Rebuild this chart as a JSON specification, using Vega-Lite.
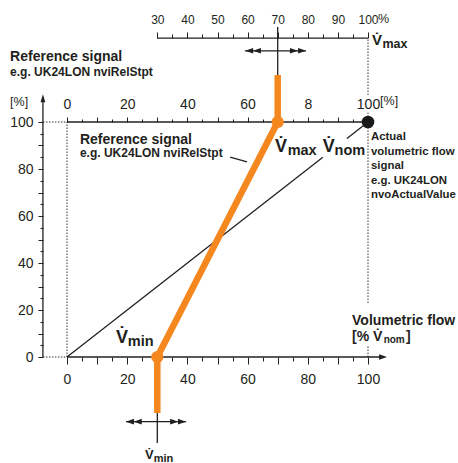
{
  "$schema": "https://vega.github.io/schema/vega-lite/v6.json",
  "width": 301,
  "height": 235,
  "autosize": {"type": "none"},
  "padding": {"left": 67, "top": 122, "right": 90, "bottom": 106},
  "background": "white",
  "config": {
    "view": {"stroke": null},
    "axis": {
      "labelFont": "Liberation Sans",
      "labelColor": "#231f20",
      "tickColor": "#231f20",
      "tickWidth": 1,
      "labelFontSize": 14,
      "grid": false,
      "title": null,
      "labelFlush": false,
      "labelOverlap": false,
      "domain": false
    },
    "text": {"font": "Liberation Sans", "color": "#231f20", "align": "left", "baseline": "alphabetic"}
  },
  "resolve": {"axis": {"x": "independent", "y": "independent"}},
  "layer": [
    {
      "data": {"values": [
        {"x": -8, "x2": 0, "y": 0, "y2": 0},
        {"x": -8, "x2": 0, "y": 100, "y2": 100},
        {"x": 0, "x2": 0, "y": 0, "y2": 100},
        {"x": 100, "x2": 100, "y": 0, "y2": 5},
        {"x": 100, "x2": 100, "y": 23, "y2": 104},
        {"x": 100, "x2": 100, "y": 111.5, "y2": 135.7}
      ]},
      "mark": {"type": "rule", "strokeDash": [1.5, 1.5], "strokeWidth": 1, "color": "#333333"},
      "encoding": {
        "x": {"field": "x", "type": "quantitative", "scale": {"domain": [0, 100], "nice": false, "zero": false},
          "axis": {"orient": "bottom", "values": [0, 10, 20, 30, 40, 50, 60, 70, 80, 90, 100], "tickSize": 7, "labelPadding": 8,
            "labelExpr": "datum.value % 20 == 0 ? datum.label : ''"}},
        "x2": {"field": "x2"},
        "y": {"field": "y", "type": "quantitative", "scale": {"domain": [0, 100], "nice": false, "zero": false},
          "axis": {"orient": "left", "offset": 24, "values": [0, 10, 20, 30, 40, 50, 60, 70, 80, 90, 100], "tickSize": 5, "labelPadding": 5,
            "labelExpr": "datum.value % 20 == 0 ? datum.label : ''"}},
        "y2": {"field": "y2"}
      }
    },
    {
      "data": {"values": [
        {"x": 30, "x2": 100, "y": 135.7, "y2": 135.7},
        {"x": -8, "x2": -8, "y": 0, "y2": 110},
        {"x": 0, "x2": 105, "y": 0, "y2": 0},
        {"x": 0, "x2": 100, "y": 100, "y2": 100},
        {"x": 70, "x2": 70, "y": 100, "y2": 140.4},
        {"x": 30, "x2": 30, "y": -23.8, "y2": -36.6},
        {"x": 59.1, "x2": 79.4, "y": 130.3, "y2": 130.3},
        {"x": 19.6, "x2": 39.6, "y": -27.5, "y2": -27.5},
        {"x": 54.2, "x2": 59.8, "y": 85.1, "y2": 83.0}
      ]},
      "mark": {"type": "rule", "strokeWidth": 1.3, "color": "#231f20"},
      "encoding": {
        "x": {"field": "x", "type": "quantitative", "scale": {"domain": [0, 100], "nice": false, "zero": false},
          "axis": {"orient": "bottom", "values": [5, 15, 25, 35, 45, 55, 65, 75, 85, 95], "tickSize": 4, "labels": false}},
        "x2": {"field": "x2"},
        "y": {"field": "y", "type": "quantitative", "scale": {"domain": [0, 100], "nice": false, "zero": false},
          "axis": {"orient": "left", "offset": 24, "values": [5, 15, 25, 35, 45, 55, 65, 75, 85, 95], "tickSize": 3, "labels": false}},
        "y2": {"field": "y2"}
      }
    },
    {
      "data": {"values": [
        {"seg": "a", "x": 0, "y": 0},
        {"seg": "a", "x": 85, "y": 85},
        {"seg": "b", "x": 93, "y": 93},
        {"seg": "b", "x": 100, "y": 100}
      ]},
      "mark": {"type": "line", "strokeWidth": 1.3, "color": "#231f20"},
      "encoding": {
        "x": {"field": "x", "type": "quantitative", "scale": {"domain": [0, 100], "nice": false, "zero": false},
          "axis": {"orient": "top", "values": [0, 10, 20, 30, 40, 50, 60, 70, 80, 90, 100], "tickSize": 5, "labelPadding": 6,
            "labelExpr": "datum.value == 80 ? '8' : (datum.value % 20 == 0 ? datum.label : '')"}},
        "y": {"field": "y", "type": "quantitative", "scale": {"domain": [0, 100], "nice": false, "zero": false}, "axis": null},
        "detail": {"field": "seg"}
      }
    },
    {
      "data": {"values": [
        {"o": 1, "x": 30, "y": -23.8},
        {"o": 2, "x": 30, "y": 0},
        {"o": 3, "x": 70, "y": 100},
        {"o": 4, "x": 70, "y": 120}
      ]},
      "mark": {"type": "line", "strokeWidth": 6.5, "color": "#f5871f", "strokeCap": "butt", "strokeJoin": "round"},
      "encoding": {
        "x": {"field": "x", "type": "quantitative", "scale": {"domain": [0, 100], "nice": false, "zero": false},
          "axis": {"orient": "top", "values": [5, 15, 25, 35, 45, 55, 65, 75, 85, 95], "tickSize": 3, "labels": false}},
        "y": {"field": "y", "type": "quantitative", "scale": {"domain": [0, 100], "nice": false, "zero": false}, "axis": null},
        "order": {"field": "o"}
      }
    },
    {
      "data": {"values": [
        {"x": 30, "y": 0},
        {"x": 70, "y": 100}
      ]},
      "mark": {"type": "point", "shape": "circle", "filled": true, "opacity": 1, "size": 150, "color": "#f5871f"},
      "encoding": {
        "x": {"field": "x", "type": "quantitative", "scale": {"domain": [0, 100], "nice": false, "zero": false},
          "axis": {"orient": "top", "offset": 84, "values": [30, 40, 50, 60, 70, 80, 90, 100], "tickSize": 6, "labelPadding": 6, "labelFontSize": 12}},
        "y": {"field": "y", "type": "quantitative", "scale": {"domain": [0, 100], "nice": false, "zero": false}, "axis": null}
      }
    },
    {
      "data": {"values": [
        {"x": 100, "y": 100}
      ]},
      "mark": {"type": "point", "shape": "circle", "filled": true, "opacity": 1, "size": 160, "color": "#1a1a1a"},
      "encoding": {
        "x": {"field": "x", "type": "quantitative", "scale": {"domain": [0, 100], "nice": false, "zero": false},
          "axis": {"orient": "top", "offset": 84, "values": [35, 45, 55, 65, 75, 85, 95], "tickSize": 4, "labels": false}},
        "y": {"field": "y", "type": "quantitative", "scale": {"domain": [0, 100], "nice": false, "zero": false}, "axis": null}
      }
    },
    {
      "data": {"values": [
        {"x": 105, "y": 0},
        {"x": 75.4, "y": 130.3},
        {"x": 78.1, "y": 130.3},
        {"x": 35.6, "y": -27.5},
        {"x": 38.2, "y": -27.5}
      ]},
      "mark": {"type": "point", "shape": "M1,0L-1,-0.7L-1,0.7Z", "filled": true, "opacity": 1, "size": 64, "color": "#231f20"},
      "encoding": {
        "x": {"field": "x", "type": "quantitative", "scale": {"domain": [0, 100], "nice": false, "zero": false}, "axis": null},
        "y": {"field": "y", "type": "quantitative", "scale": {"domain": [0, 100], "nice": false, "zero": false}, "axis": null}
      }
    },
    {
      "data": {"values": [
        {"x": 60.5, "y": 130.3},
        {"x": 63.1, "y": 130.3},
        {"x": 20.9, "y": -27.5},
        {"x": 23.5, "y": -27.5}
      ]},
      "mark": {"type": "point", "shape": "M-1,0L1,-0.7L1,0.7Z", "filled": true, "opacity": 1, "size": 64, "color": "#231f20"},
      "encoding": {
        "x": {"field": "x", "type": "quantitative", "scale": {"domain": [0, 100], "nice": false, "zero": false}, "axis": null},
        "y": {"field": "y", "type": "quantitative", "scale": {"domain": [0, 100], "nice": false, "zero": false}, "axis": null}
      }
    },
    {
      "data": {"values": [
        {"x": -8, "y": 110.1}
      ]},
      "mark": {"type": "point", "shape": "M0,-1L-0.6,1L0.6,1Z", "filled": true, "opacity": 1, "size": 64, "color": "#231f20"},
      "encoding": {
        "x": {"field": "x", "type": "quantitative", "scale": {"domain": [0, 100], "nice": false, "zero": false}, "axis": null},
        "y": {"field": "y", "type": "quantitative", "scale": {"domain": [0, 100], "nice": false, "zero": false}, "axis": null}
      }
    },
    {
      "data": {"values": [
        {"t": "Reference signal", "x": -18.9, "y": 126.0},
        {"t": "Reference signal", "x": 4.3, "y": 90.6},
        {"t": "Volumetric flow", "x": 94.7, "y": 13.6},
        {"t": "[% V̇", "x": 94.7, "y": 6.8},
        {"t": "]", "x": 112.6, "y": 6.8}
      ]},
      "mark": {"type": "text", "fontSize": 14, "fontWeight": "bold"},
      "encoding": {
        "x": {"field": "x", "type": "quantitative", "scale": {"domain": [0, 100], "nice": false, "zero": false}, "axis": null},
        "y": {"field": "y", "type": "quantitative", "scale": {"domain": [0, 100], "nice": false, "zero": false}, "axis": null},
        "text": {"field": "t"}
      }
    },
    {
      "data": {"values": [
        {"t": "e.g. UK24LON nviRelStpt", "x": -18.9, "y": 119.6},
        {"t": "e.g. UK24LON nviRelStpt", "x": 4.3, "y": 84.9}
      ]},
      "mark": {"type": "text", "fontSize": 12, "fontWeight": "bold"},
      "encoding": {
        "x": {"field": "x", "type": "quantitative", "scale": {"domain": [0, 100], "nice": false, "zero": false}, "axis": null},
        "y": {"field": "y", "type": "quantitative", "scale": {"domain": [0, 100], "nice": false, "zero": false}, "axis": null},
        "text": {"field": "t"}
      }
    },
    {
      "data": {"values": [
        {"t": "Actual", "x": 101.0, "y": 92.3},
        {"t": "volumetric flow", "x": 101.0, "y": 86.0},
        {"t": "signal", "x": 101.0, "y": 79.8},
        {"t": "e.g. UK24LON", "x": 101.0, "y": 73.6},
        {"t": "nvoActualValue", "x": 101.0, "y": 67.7}
      ]},
      "mark": {"type": "text", "fontSize": 11.4, "fontWeight": "bold"},
      "encoding": {
        "x": {"field": "x", "type": "quantitative", "scale": {"domain": [0, 100], "nice": false, "zero": false}, "axis": null},
        "y": {"field": "y", "type": "quantitative", "scale": {"domain": [0, 100], "nice": false, "zero": false}, "axis": null},
        "text": {"field": "t"}
      }
    },
    {
      "data": {"values": [
        {"t": "V̇", "x": 69.1, "y": 87.2},
        {"t": "V̇", "x": 85.0, "y": 87.2},
        {"t": "V̇", "x": 16.3, "y": 6.0}
      ]},
      "mark": {"type": "text", "fontSize": 18, "fontWeight": "bold"},
      "encoding": {
        "x": {"field": "x", "type": "quantitative", "scale": {"domain": [0, 100], "nice": false, "zero": false}, "axis": null},
        "y": {"field": "y", "type": "quantitative", "scale": {"domain": [0, 100], "nice": false, "zero": false}, "axis": null},
        "text": {"field": "t"}
      }
    },
    {
      "data": {"values": [
        {"t": "max", "x": 73.3, "y": 86.0},
        {"t": "nom", "x": 88.9, "y": 86.0},
        {"t": "min", "x": 20.2, "y": 4.5}
      ]},
      "mark": {"type": "text", "fontSize": 14.5, "fontWeight": "bold"},
      "encoding": {
        "x": {"field": "x", "type": "quantitative", "scale": {"domain": [0, 100], "nice": false, "zero": false}, "axis": null},
        "y": {"field": "y", "type": "quantitative", "scale": {"domain": [0, 100], "nice": false, "zero": false}, "axis": null},
        "text": {"field": "t"}
      }
    },
    {
      "data": {"values": [
        {"t": "nom", "x": 105.2, "y": 5.8}
      ]},
      "mark": {"type": "text", "fontSize": 10, "fontWeight": "bold"},
      "encoding": {
        "x": {"field": "x", "type": "quantitative", "scale": {"domain": [0, 100], "nice": false, "zero": false}, "axis": null},
        "y": {"field": "y", "type": "quantitative", "scale": {"domain": [0, 100], "nice": false, "zero": false}, "axis": null},
        "text": {"field": "t"}
      }
    },
    {
      "data": {"values": [
        {"t": "[%]", "x": -18.9, "y": 107.0},
        {"t": "[%]", "x": 104.0, "y": 107.2},
        {"t": "%", "x": 103.3, "y": 142.1}
      ]},
      "mark": {"type": "text", "fontSize": 12.5},
      "encoding": {
        "x": {"field": "x", "type": "quantitative", "scale": {"domain": [0, 100], "nice": false, "zero": false}, "axis": null},
        "y": {"field": "y", "type": "quantitative", "scale": {"domain": [0, 100], "nice": false, "zero": false}, "axis": null},
        "text": {"field": "t"}
      }
    },
    {
      "data": {"values": [
        {"t": "V̇", "x": 101.3, "y": 132.8}
      ]},
      "mark": {"type": "text", "fontSize": 15, "fontWeight": "bold"},
      "encoding": {
        "x": {"field": "x", "type": "quantitative", "scale": {"domain": [0, 100], "nice": false, "zero": false}, "axis": null},
        "y": {"field": "y", "type": "quantitative", "scale": {"domain": [0, 100], "nice": false, "zero": false}, "axis": null},
        "text": {"field": "t"}
      }
    },
    {
      "data": {"values": [
        {"t": "max", "x": 104.8, "y": 131.4}
      ]},
      "mark": {"type": "text", "fontSize": 12.5, "fontWeight": "bold"},
      "encoding": {
        "x": {"field": "x", "type": "quantitative", "scale": {"domain": [0, 100], "nice": false, "zero": false}, "axis": null},
        "y": {"field": "y", "type": "quantitative", "scale": {"domain": [0, 100], "nice": false, "zero": false}, "axis": null},
        "text": {"field": "t"}
      }
    },
    {
      "data": {"values": [
        {"t": "V̇", "x": 25.9, "y": -43.4}
      ]},
      "mark": {"type": "text", "fontSize": 13, "fontWeight": "bold"},
      "encoding": {
        "x": {"field": "x", "type": "quantitative", "scale": {"domain": [0, 100], "nice": false, "zero": false}, "axis": null},
        "y": {"field": "y", "type": "quantitative", "scale": {"domain": [0, 100], "nice": false, "zero": false}, "axis": null},
        "text": {"field": "t"}
      }
    },
    {
      "data": {"values": [
        {"t": "min", "x": 28.8, "y": -44.7}
      ]},
      "mark": {"type": "text", "fontSize": 11, "fontWeight": "bold"},
      "encoding": {
        "x": {"field": "x", "type": "quantitative", "scale": {"domain": [0, 100], "nice": false, "zero": false}, "axis": null},
        "y": {"field": "y", "type": "quantitative", "scale": {"domain": [0, 100], "nice": false, "zero": false}, "axis": null},
        "text": {"field": "t"}
      }
    }
  ]
}
